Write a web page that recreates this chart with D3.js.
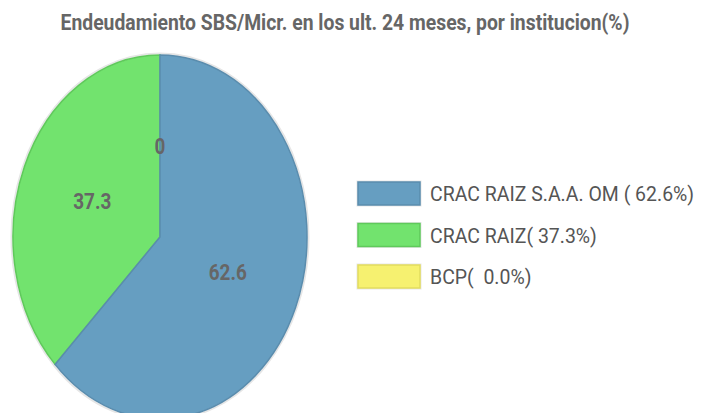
<!DOCTYPE html>
<html>
<head>
<meta charset="utf-8">
<script src="https://cdn.jsdelivr.net/npm/d3@7"></script>
<style>
  body { margin: 0; background: #fff; }
  text { font-family: "Roboto", sans-serif; white-space: pre; }
</style>
</head>
<body>
<div id="chart"></div>
<script>
const categories = ["CRAC RAIZ S.A.A. OM", "CRAC RAIZ", "BCP"];
const values = [62.6, 37.3, 0];
const legendLabels = ["CRAC RAIZ S.A.A. OM ( 62.6%)", "CRAC RAIZ( 37.3%)", "BCP(  0.0%)"];
const fills = ["#669ec1", "#72e36e", "#f6f170"];
const strokes = ["#5a8cad", "#5fc95b", "#e2dc5e"];
const title = "Endeudamiento SBS/Micr. en los ult. 24 meses, por institucion(%)";

const W = 711, H = 413;
const cx = 160, cy = 237, rx = 147, ry = 182;
const squeeze = 0.86; // text looks horizontally condensed in the original

const svg = d3.select("#chart").append("svg")
  .attr("width", W).attr("height", H);

svg.append("text")
  .attr("transform", "translate(345,30) scale(" + squeeze + ",1)")
  .attr("text-anchor", "middle")
  .style("font-size", "22.5px").style("font-weight", "bold")
  .style("fill", "#666")
  .text(title);

const data = categories.map((c, i) => ({name: c, value: values[i], i: i}));
const pie = d3.pie().sort(null).value(d => d.value);
const arcs = pie(data);
const arc = d3.arc().innerRadius(0).outerRadius(1);

// pie drawn on a unit circle and stretched into an ellipse
const g = svg.append("g").attr("transform", "translate(" + cx + "," + cy + ")");

g.append("ellipse")
  .attr("rx", rx + 1.5).attr("ry", ry + 1.5)
  .style("fill", "none").style("stroke", "#e6e6e6").style("stroke-width", 2);

// drawn last-to-first so the first slice's edge sits on top
g.append("g").attr("transform", "scale(" + rx + "," + ry + ")")
  .selectAll("path").data(arcs.slice().reverse()).enter().append("path")
    .attr("d", arc)
    .style("fill", d => fills[d.data.i])
    .style("stroke", d => strokes[d.data.i])
    .style("stroke-width", 1.5)
    .attr("vector-effect", "non-scaling-stroke");

g.selectAll(".lbl").data(arcs).enter().append("text")
  .attr("class", "lbl")
  .attr("transform", d => "translate(" + arc.centroid(d)[0] * rx + "," + arc.centroid(d)[1] * ry + ") scale(" + squeeze + ",1)")
  .attr("dy", "0.35em")
  .attr("text-anchor", "middle")
  .style("font-size", "22px").style("font-weight", "bold")
  .style("fill", "#666")
  .text(d => d3.format("")(d.data.value));

const lg = svg.append("g").attr("transform", "translate(358,182)");
const row = lg.selectAll("g").data(legendLabels).enter().append("g")
  .attr("transform", (d, i) => "translate(0," + (i * 41.5) + ")");
row.append("rect")
  .attr("x", -1.5).attr("y", -1.5).attr("width", 65).attr("height", 26)
  .style("fill", "#e8e8e8");
row.append("rect")
  .attr("width", 62).attr("height", 23)
  .style("fill", (d, i) => fills[i])
  .style("stroke", (d, i) => strokes[i]).style("stroke-width", 1.5);
row.append("text")
  .attr("transform", "translate(72,12) scale(0.95,1)")
  .attr("dy", "0.35em")
  .style("font-size", "20.5px").style("fill", "#555")
  .text(d => d);
</script>
</body>
</html>
